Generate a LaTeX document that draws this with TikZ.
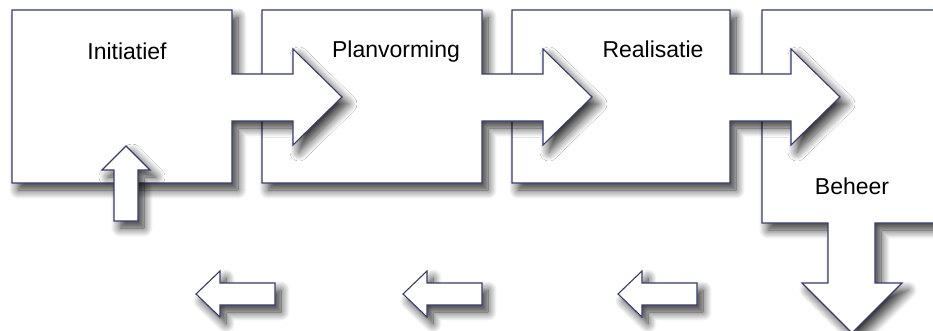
\documentclass[tikz,border=0pt]{standalone}
\usepackage{fontspec}
\setmainfont{Liberation Sans}
\usetikzlibrary{shadows.blur}
\definecolor{rand}{HTML}{3A3A6E}
\tikzset{
    blok/.style={draw=rand, line width=1.1pt, fill=white,
      blur shadow={shadow xshift=6pt, shadow yshift=-7pt, shadow blur steps=12,
        shadow blur radius=9pt, shadow opacity=80}},
    fase/.style={font=\fontsize{23}{28}\selectfont, anchor=base, text=black}
}

\begin{document}
\begin{tikzpicture}[x=1pt, y=-1pt]
    \useasboundingbox (0,0) rectangle (933,330);
    \draw[blok] (762,10) -- (960,10) -- (960,223) -- (875,223) -- (875,283)
      -- (902,283) -- (852,333) -- (802,283) -- (828,283) -- (828,223)
      -- (762,223) -- cycle;
    \foreach \x/\r in {512/730, 262/482, 12/232} {
      \draw[blok] (\x,10) -- (\r,10) -- (\r,74) -- (\r+61,74) -- (\r+61,49)
        -- (\r+110,97) -- (\r+61,145) -- (\r+61,121) -- (\r,121) -- (\r,183)
        -- (\x,183) -- cycle;
    }
    \draw[blok] (114,221) -- (114,170) -- (102,170) -- (126,146) -- (150,170)
      -- (138,170) -- (138,221) -- cycle;
    \foreach \x in {196,403,618} {
      \draw[blok] (\x,294) -- (\x+24,271) -- (\x+24,283) -- (\x+79,283)
        -- (\x+79,305) -- (\x+24,305) -- (\x+24,317) -- cycle;
    }
    \node[fase] (init) at (127,59) {Initiatief};
    \node[fase] (plan) at (396,57) {Planvorming};
    \node[fase] (real) at (653,57) {Realisatie};
    \node[fase] (beheer) at (852,194) {Beheer};
\end{tikzpicture}
\end{document}
